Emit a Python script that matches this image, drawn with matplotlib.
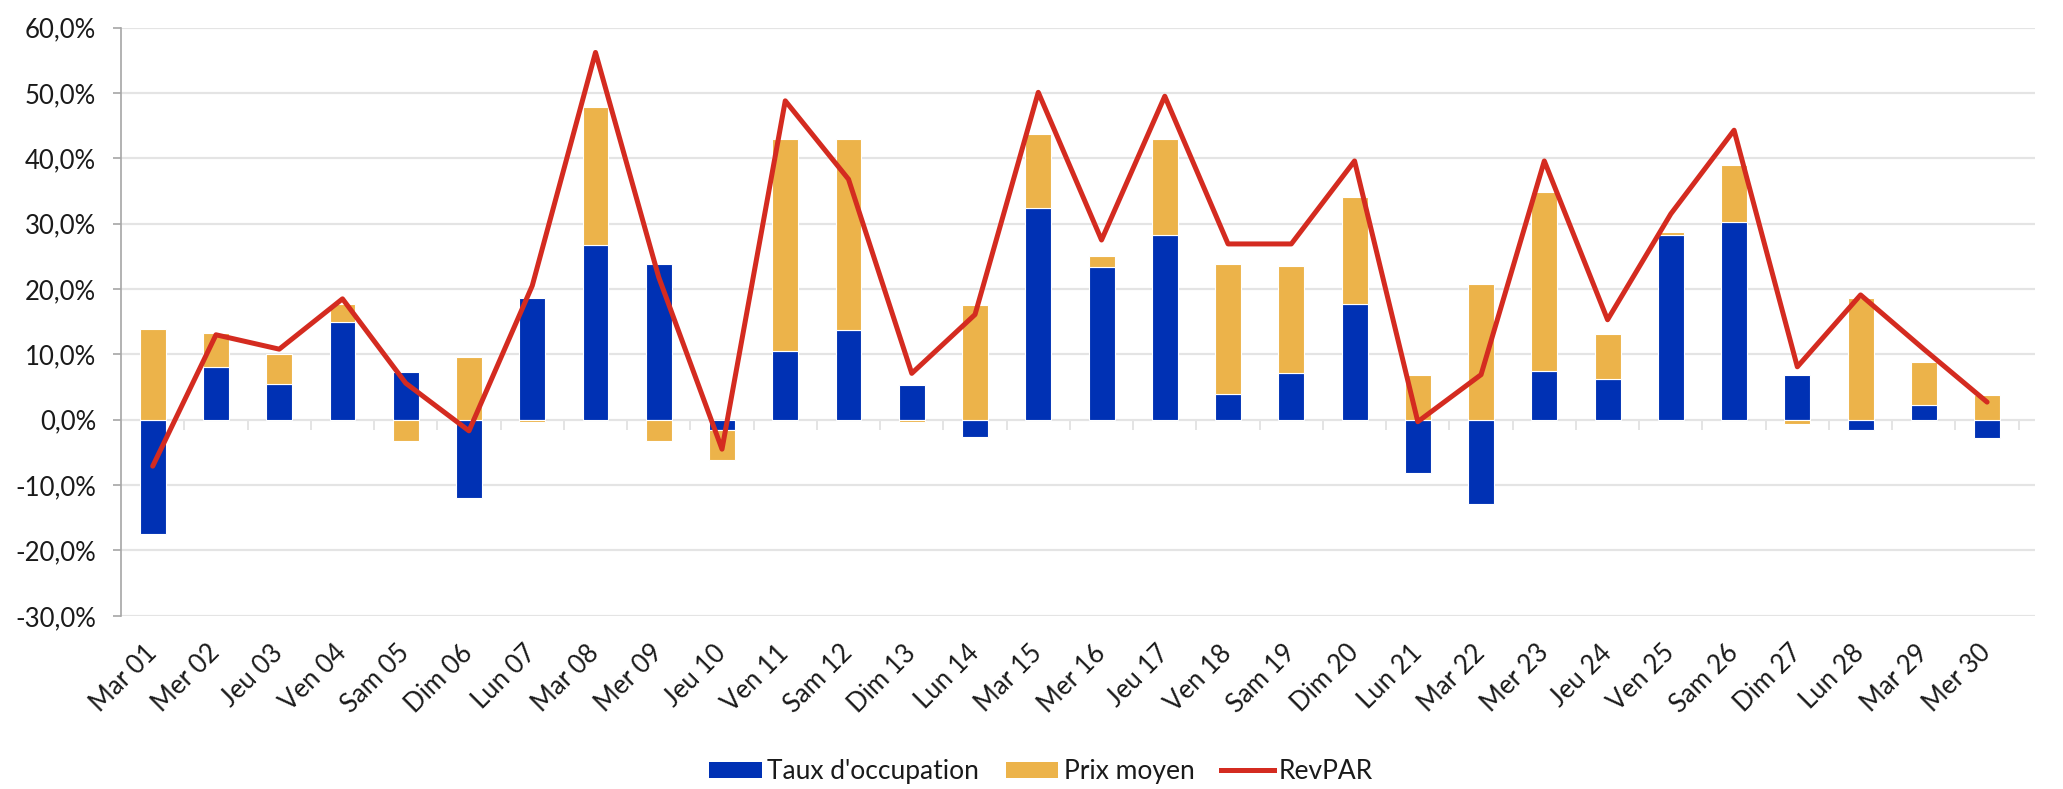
import numpy as np
import matplotlib
matplotlib.use("Agg")
import matplotlib.pyplot as plt
from matplotlib.ticker import FuncFormatter, MultipleLocator
from matplotlib.patches import Patch
from matplotlib.lines import Line2D

plt.rcParams['font.family'] = ['Lato', 'DejaVu Sans']

categories = ["Mar 01", "Mer 02", "Jeu 03", "Ven 04", "Sam 05", "Dim 06", "Lun 07",
              "Mar 08", "Mer 09", "Jeu 10", "Ven 11", "Sam 12", "Dim 13", "Lun 14",
              "Mar 15", "Mer 16", "Jeu 17", "Ven 18", "Sam 19", "Dim 20", "Lun 21",
              "Mar 22", "Mer 23", "Jeu 24", "Ven 25", "Sam 26", "Dim 27", "Lun 28",
              "Mar 29", "Mer 30"]

taux_occupation = [-17.5, 8.1, 5.5, 15.0, 7.3, -11.9, 18.7, 26.8, 23.8, -1.6,
                   10.5, 13.8, 5.3, -2.6, 32.4, 23.3, 28.3, 4.0, 7.2, 17.7,
                   -8.2, -12.9, 7.4, 6.2, 28.3, 30.2, 6.8, -1.5, 2.3, -2.8]

prix_moyen = [13.9, 5.2, 4.6, 2.7, -3.3, 9.6, -0.3, 21.1, -3.3, -4.6,
              32.4, 29.1, -0.3, 17.5, 11.3, 1.8, 14.6, 19.8, 16.4, 16.4,
              6.8, 20.7, 27.5, 6.9, 0.5, 8.8, -0.6, 18.7, 6.5, 3.8]

revpar = [-7.1, 13.0, 10.8, 18.5, 5.6, -1.7, 20.5, 56.2, 21.8, -4.5,
          48.8, 36.8, 7.1, 16.1, 50.1, 27.5, 49.5, 26.9, 26.9, 39.6,
          -0.3, 6.9, 39.6, 15.3, 31.5, 44.3, 8.1, 19.1, 10.8, 2.7]

BLUE = "#0031B4"
YELLOW = "#ECB34A"
RED = "#D42B20"
GRID = "#E4E4E4"
AXIS = "#A6A6A6"
TEXT = "#1A1A1A"

occ = np.array(taux_occupation)
prix = np.array(prix_moyen)
x = np.arange(len(categories))

fig = plt.figure(figsize=(20.63, 7.89), dpi=100)
ax = fig.add_axes([0.0587, 0.2195, 0.9275, 0.7455])

# Excel-like stacking: positives stack upward from 0, negatives downward
occ_base = np.zeros_like(occ)
prix_base = np.where(prix >= 0, np.where(occ > 0, occ, 0), np.where(occ < 0, occ, 0))

w = 0.41
ax.bar(x, occ, w, bottom=occ_base, color=BLUE, edgecolor="white", linewidth=0.8, zorder=3)
ax.bar(x, prix, w, bottom=prix_base, color=YELLOW, edgecolor="white", linewidth=0.8, zorder=3)
ax.plot(x, revpar, color=RED, linewidth=3.6, solid_capstyle="round",
        solid_joinstyle="round", zorder=4)

ax.set_ylim(-30, 60)
ax.set_xlim(-0.5, len(categories) - 0.5 + 0.25)
ax.yaxis.set_major_locator(MultipleLocator(10))
ax.yaxis.set_major_formatter(FuncFormatter(lambda v, p: f"{v:.1f}%".replace(".", ",")))
ax.grid(axis="y", color=GRID, linewidth=1.6, zorder=0)
ax.set_axisbelow(True)

for s in ["top", "right", "bottom"]:
    ax.spines[s].set_visible(False)
ax.spines["left"].set_color(AXIS)
ax.spines["left"].set_linewidth(1.2)

ax.tick_params(axis="y", length=6, width=1.2, color=AXIS, labelsize=18.5,
               labelcolor=TEXT, pad=12)
ax.set_xticks(x)
ax.set_xticklabels(categories, rotation=45, ha="right", va="center",
                   rotation_mode="anchor", fontsize=18.5, color=TEXT)
ax.tick_params(axis="x", length=0, pad=24)

# category boundary tick marks on the zero line
bounds = np.arange(len(categories) + 1) - 0.5
ax.vlines(bounds, 0, -1.5, color=GRID, linewidth=1.4, zorder=2)

handles = [Patch(facecolor=BLUE, label="Taux d'occupation"),
           Patch(facecolor=YELLOW, label="Prix moyen"),
           Line2D([0], [0], color=RED, linewidth=3.6, label="RevPAR")]
fig.legend(handles=handles, loc="center", bbox_to_anchor=(0.5047, 0.022),
           ncol=3, frameon=False, fontsize=19, handlelength=2.0,
           handleheight=0.55, handletextpad=0.2, columnspacing=1.0,
           labelcolor=TEXT)

fig.savefig("out.png", dpi=100)
